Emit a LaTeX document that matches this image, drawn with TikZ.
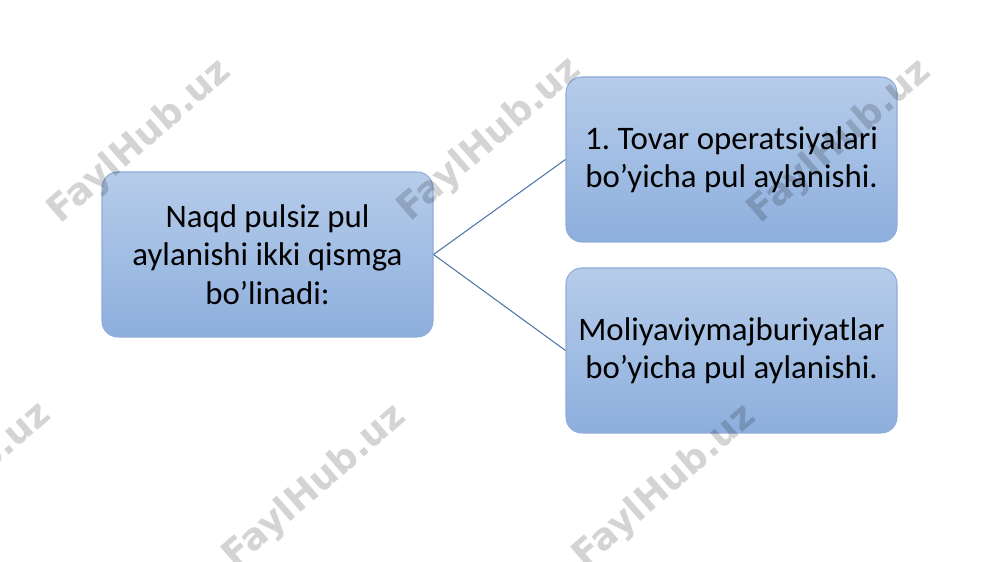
\documentclass[tikz,border=0pt]{standalone}
\usepackage{fontspec}
\setmainfont{Carlito}
\newfontfamily\markfont{DejaVu Sans}
\usepackage{xcolor}
\usetikzlibrary{positioning}

\definecolor{boxtop}{HTML}{B6CCEA}
\definecolor{boxbottom}{HTML}{8DAFDD}
\definecolor{boxline}{HTML}{8FACD9}
\definecolor{linkline}{HTML}{4F74AB}

\frenchspacing

\begin{document}
\begin{tikzpicture}[
        partbox/.style={rectangle, rounded corners=0.32cm, draw=boxline, line width=0.6pt,
            top color=boxtop, bottom color=boxbottom, inner xsep=0pt,
            minimum width=6.62cm, minimum height=3.3cm, text width=6.62cm,
            align=flush center, font=\fontsize{18.7}{21.8}\selectfont},
        link/.style={draw=linkline, line width=0.6pt},
        wmark/.style={rotate=41, text=black, text opacity=0.17, font=\markfont\bfseries\fontsize{21}{24}\selectfont}
    ]
        % Fix the page size
        \useasboundingbox (0,0) rectangle (20,11.24);

        % Main box and its two parts
        \node[partbox] (whole) at (5.35,6.15) {Naqd pulsiz pul\\aylanishi ikki qismga\\bo’linadi:};
        \node[partbox] (goods) at (14.63,8.05) {1. Tovar operatsiyalari\\bo’yicha pul aylanishi.};
        \node[partbox] (debts) at (14.63,4.23) {Moliyaviymajburiyatlar\\bo’yicha pul aylanishi.};

        % Links
        \draw[link] (whole.east) -- (goods.west);
        \draw[link] (whole.east) -- (debts.west);

        % Watermarks
        \foreach \x/\y in {2.8/8.4, 9.8/8.45, 16.8/8.4, -0.8/1.55, 6.3/1.5, 13.3/1.5} {
            \node[wmark] at (\x,\y) {FaylHub.uz};
        }
    \end{tikzpicture}
\end{document}
